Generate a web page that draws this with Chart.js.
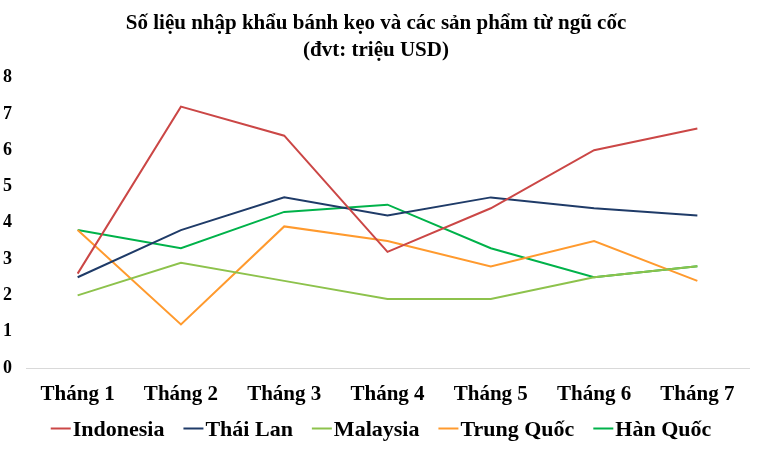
<!DOCTYPE html>
<html>
<head>
<meta charset="utf-8">
<script src="https://cdn.jsdelivr.net/npm/chart.js@4/dist/chart.umd.min.js"></script>
<style>
html,body{margin:0;padding:0;background:#fff;}
#wrap{width:762px;height:454px;position:relative;}
</style>
</head>
<body>
<div id="wrap"><canvas id="c" width="762" height="454"></canvas></div>
<script>
const categories = ["Tháng 1","Tháng 2","Tháng 3","Tháng 4","Tháng 5","Tháng 6","Tháng 7"];
const indonesia = [2.6, 7.2, 6.4, 3.2, 4.4, 6.0, 6.6];
const thaiLan   = [2.5, 3.8, 4.7, 4.2, 4.7, 4.4, 4.2];
const malaysia  = [2.0, 2.9, 2.4, 1.9, 1.9, 2.5, 2.8];
const trungQuoc = [3.8, 1.2, 3.9, 3.5, 2.8, 3.5, 2.4];
const hanQuoc   = [3.8, 3.3, 4.3, 4.5, 3.3, 2.5, 2.8];
const seriesNames = ["Indonesia","Thái Lan","Malaysia","Trung Quốc","Hàn Quốc"];
const seriesColors = ["#CB4746","#1F3B68","#8DC24C","#FF9A2E","#00B24A"];
const yTicks = [0,1,2,3,4,5,6,7,8];
const titleLines = ["Số liệu nhập khẩu bánh kẹo và các sản phẩm từ ngũ cốc","(đvt: triệu USD)"];

const values = [indonesia, thaiLan, malaysia, trungQuoc, hanQuoc];
const datasets = values.map((v,i)=>({
  label: seriesNames[i],
  data: v,
  borderColor: seriesColors[i],
  backgroundColor: seriesColors[i],
  borderWidth: 2,
  pointRadius: 0,
  tension: 0,
  fill: false
}));

const FONT = "'Liberation Serif', 'Times New Roman', serif";

// Bottom legend: short line marker tight against its label, items centred.
const bottomLegend = {
  id: 'bottomLegend',
  afterDraw(chart) {
    const ctx = chart.ctx;
    const lineW = 20, textGap = 2, itemGap = 19;
    const yLine = 428.5, yText = 430;
    ctx.save();
    ctx.font = "bold 22px " + FONT;
    const items = chart.data.datasets.map(ds => ({
      text: ds.label, color: ds.borderColor, w: ctx.measureText(ds.label).width
    }));
    const total = items.reduce((s,it)=>s + lineW + textGap + it.w, 0) + itemGap*(items.length-1);
    let x = (chart.width - total) / 2;
    ctx.textBaseline = 'middle';
    ctx.textAlign = 'left';
    items.forEach(it => {
      ctx.strokeStyle = it.color;
      ctx.lineWidth = 2;
      ctx.beginPath();
      ctx.moveTo(x, yLine);
      ctx.lineTo(x + lineW, yLine);
      ctx.stroke();
      ctx.fillStyle = '#000';
      ctx.fillText(it.text, x + lineW + textGap, yText);
      x += lineW + textGap + it.w + itemGap;
    });
    ctx.restore();
  }
};

new Chart(document.getElementById('c'), {
  type: 'line',
  data: { labels: categories, datasets },
  plugins: [bottomLegend],
  options: {
    responsive: false,
    animation: false,
    devicePixelRatio: 1,
    layout: { padding: { left: 3, right: 13, top: 0, bottom: 46 } },
    plugins: {
      title: {
        display: true,
        text: titleLines,
        color: '#000',
        font: { family: FONT, size: 21, weight: 'bold', lineHeight: 1.3 },
        padding: { top: 10, bottom: 13 }
      },
      legend: { display: false },
      tooltip: { enabled: false }
    },
    scales: {
      x: {
        offset: true,
        afterFit: (s) => { s.height = 40; },
        grid: { display: false, drawTicks: false },
        border: { display: true, color: '#d9d9d9', width: 1 },
        ticks: {
          color: '#000',
          padding: 14,
          maxRotation: 0,
          font: { family: FONT, size: 21, weight: 'bold' }
        }
      },
      y: {
        min: 0, max: 8,
        afterBuildTicks: (s) => { s.ticks = yTicks.map(v=>({value:v})); },
        afterFit: (s) => { s.width = 23; },
        grid: { display: false, drawTicks: false },
        border: { display: false },
        ticks: {
          color: '#000',
          crossAlign: 'far',
          padding: 4,
          font: { family: FONT, size: 18, weight: 'bold' }
        }
      }
    }
  }
});
</script>
</body>
</html>
